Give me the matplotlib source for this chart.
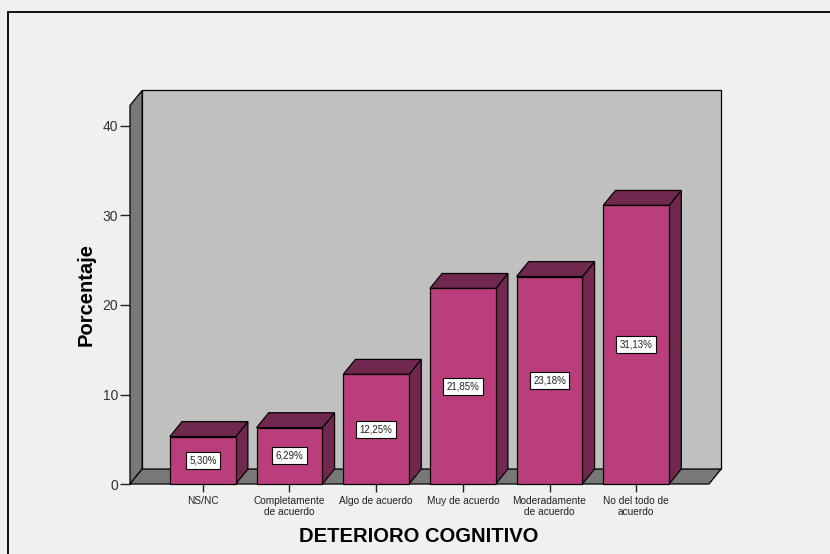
import matplotlib
matplotlib.use("Agg")
import matplotlib.pyplot as plt
from matplotlib.patches import Polygon, Rectangle

categories = ["NS/NC", "Completamente\nde acuerdo", "Algo de acuerdo",
              "Muy de acuerdo", "Moderadamente\nde acuerdo", "No del todo de\nacuerdo"]
percentages = [5.30, 6.29, 12.25, 21.85, 23.18, 31.13]
yticks = [0, 10, 20, 30, 40]

plt.rcParams["font.family"] = ["Liberation Sans", "DejaVu Sans"]

FRONT = "#BA3E7B"
SHADE = "#71284F"
WALL = "#C0C0C0"
SIDE = "#787878"
BG = "#F0F0F0"

fig = plt.figure(figsize=(8.3, 5.54), dpi=100, facecolor=BG)
ax = fig.add_axes([130 / 830, 70 / 554, 579 / 830, 358 / 554])
ax.set_facecolor("none")

x0, x1 = -0.84, len(categories) - 1 + 0.84
ax.set_xlim(x0, x1)
ax.set_ylim(0, 40)

# depth offsets of the pseudo-3D projection (data units)
dx, dy = 0.14, 1.67
wall_top = 42.3
bw = 0.76


def poly(pts, fc, z, lw=0.9):
    ax.add_patch(Polygon(pts, closed=True, facecolor=fc, edgecolor="black",
                         linewidth=lw, clip_on=False, zorder=z))


# back wall, left wall and floor
poly([(x0 + dx, dy), (x1 + dx, dy), (x1 + dx, wall_top + dy), (x0 + dx, wall_top + dy)], WALL, 1)
poly([(x0, 0), (x0 + dx, dy), (x0 + dx, wall_top + dy), (x0, wall_top)], SIDE, 2)
poly([(x0, 0), (x1, 0), (x1 + dx, dy), (x0 + dx, dy)], SIDE, 2)

# bars
for i, v in enumerate(percentages):
    l, r = i - bw / 2, i + bw / 2
    poly([(r, 0), (r + dx, dy), (r + dx, v + dy), (r, v)], SHADE, 3)
    poly([(l, v), (r, v), (r + dx, v + dy), (l + dx, v + dy)], SHADE, 3)
    ax.add_patch(Rectangle((l, 0), bw, v, facecolor=FRONT, edgecolor="black",
                           linewidth=0.9, clip_on=False, zorder=4))
    ax.text(i, v / 2, f"{v:.2f}%".replace(".", ","), ha="center", va="center",
            fontsize=7, color="#222222", zorder=5,
            bbox=dict(boxstyle="square,pad=0.35", facecolor="white",
                      edgecolor="black", linewidth=0.8))

for s in ax.spines.values():
    s.set_visible(False)

ax.set_yticks(yticks)
ax.tick_params(axis="y", length=7.2, width=1.0, pad=1.5, labelsize=10,
               labelcolor="#333333", color="#222222")
ax.set_xticks(range(len(categories)))
ax.set_xticklabels(categories, fontsize=7.3, color="#222222", linespacing=1.05)
ax.tick_params(axis="x", length=6, width=1.0, pad=3, color="#222222")

ax.set_ylabel("Porcentaje", fontsize=14.5, fontweight="bold")
ax.yaxis.set_label_coords(-0.0587, 0.528)
ax.set_xlabel("DETERIORO COGNITIVO", fontsize=14.5, fontweight="bold")
ax.xaxis.set_label_coords(0.499, -0.121)

# outer frame
fig.add_artist(Rectangle((8 / 830, -0.2), 1.2, 1 - 12 / 554 + 0.2,
                         transform=fig.transFigure, facecolor="none",
                         edgecolor="black", linewidth=1.3))

fig.savefig("out.png", dpi=100, facecolor=BG)
